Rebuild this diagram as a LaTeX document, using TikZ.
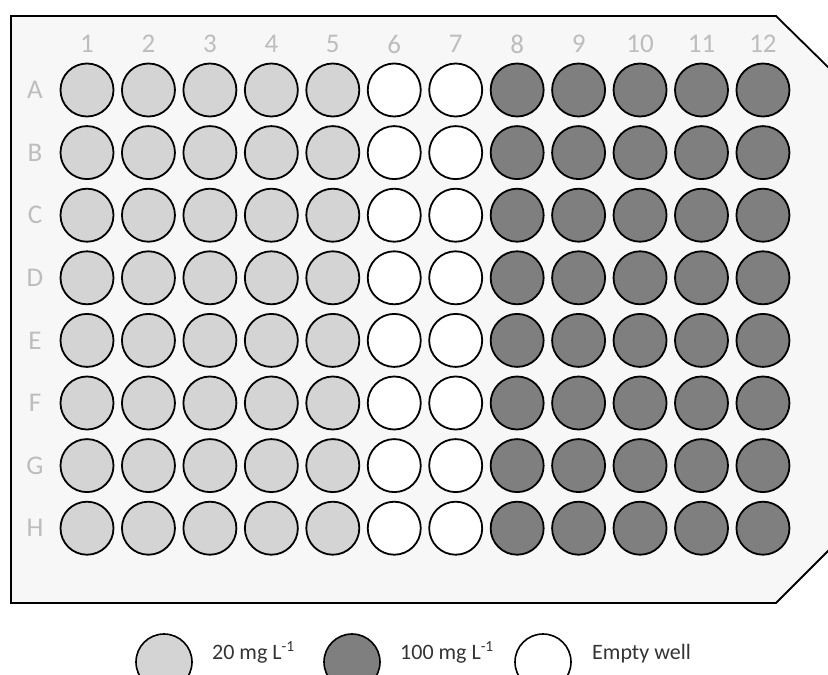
\documentclass[tikz,border=0pt]{standalone}
\usepackage{fontspec}
\setmainfont{Carlito}
\begin{document}
\begin{tikzpicture}[x=1pt,y=-1pt,
  well/.style={circle,draw=black,line width=1.8pt,minimum size=53pt,inner sep=0pt},
  lowc/.style={well,fill=lightwell},
  highc/.style={well,fill=darkwell},
  emptyc/.style={well,fill=white},
  lab/.style={text=labgray,font=\fontsize{27}{27}\selectfont},
  legtext/.style={anchor=base west,inner sep=0pt,font=\fontsize{22}{22}\selectfont,text=black!80},
  legwell/.style={draw=black,line width=1.6pt}]
\definecolor{lightwell}{HTML}{D4D4D4}
\definecolor{darkwell}{HTML}{7F7F7F}
\definecolor{labgray}{HTML}{BDBDBD}
\definecolor{platebg}{HTML}{F7F7F7}
\useasboundingbox (0,0) rectangle (828,675);
\draw[fill=platebg,line width=1.8pt] (11,16) -- (776,16) -- (829,68) -- (829,550) -- (776,603) -- (11,603) -- cycle;
\foreach \c in {1,...,12}{
  \node[lab] (col\c) at ({87+(\c-1)*61.45},44) {\c};
}
\foreach \r/\l [count=\i from 0] in {A/A,B/B,C/C,D/D,E/E,F/F,G/G,H/H}{
  \node[lab] (row\r) at (35,{90+\i*62.6}) {\l};
  \foreach \c in {1,...,12}{
    \ifnum\c<6
      \node[lowc] (w\r\c) at ({87+(\c-1)*61.45},{90+\i*62.6}) {};
    \else\ifnum\c<8
      \node[emptyc] (w\r\c) at ({87+(\c-1)*61.45},{90+\i*62.6}) {};
    \else
      \node[highc] (w\r\c) at ({87+(\c-1)*61.45},{90+\i*62.6}) {};
    \fi\fi
  }
}
\draw[legwell,fill=lightwell] (164,662) circle [radius=28];
\node[legtext] (t1) at (212,659) {20 mg L\textsuperscript{-1}};
\draw[legwell,fill=darkwell] (352,662) circle [radius=28];
\node[legtext] (t2) at (400,659) {100 mg L\textsuperscript{-1}};
\draw[legwell,fill=white] (543,662) circle [radius=28];
\node[legtext] (t3) at (592,659) {Empty well};
\end{tikzpicture}
\end{document}
